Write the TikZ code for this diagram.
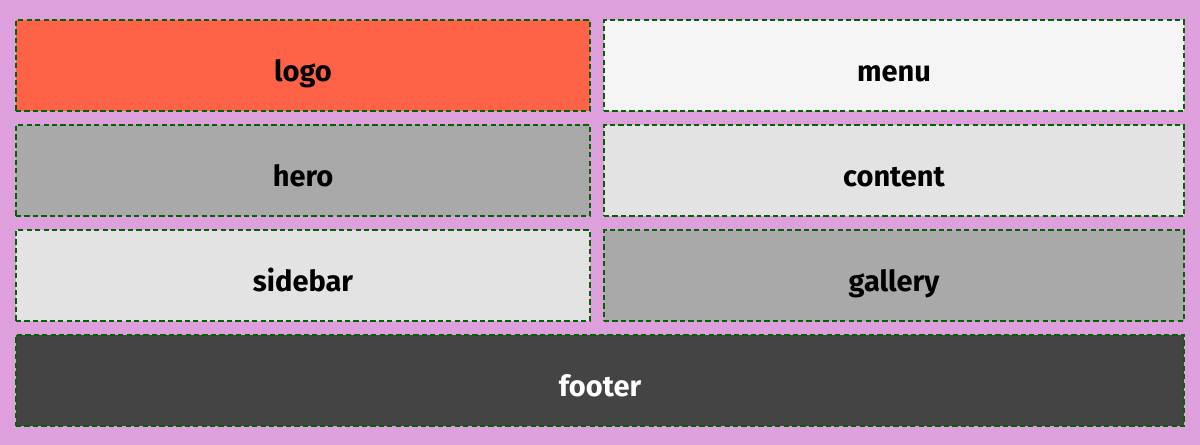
\documentclass[tikz,border=0pt]{standalone}
\usepackage{fontspec}
\setmainfont{Fira Sans}
\usetikzlibrary{positioning}

\definecolor{plum}{HTML}{DDA0DD}
\definecolor{tomato}{HTML}{FF6347}
\definecolor{whitesmoke}{HTML}{F5F5F5}
\definecolor{lightgrey}{HTML}{E3E3E3}
\definecolor{darkgrey}{HTML}{A9A9A9}
\definecolor{charcoal}{HTML}{444444}
\definecolor{darkgreen}{HTML}{006400}

\tikzset{
    cell/.style={draw=darkgreen, line width=1.3pt, dash pattern=on 3pt off 1.8pt,
        minimum height=1.82cm, inner sep=0pt, outer sep=0pt,
        text height=0.64cm, text depth=0cm,
        font=\fontsize{16.5}{19}\selectfont\bfseries},
    leftcell/.style={cell, minimum width=11.48cm},
    rightcell/.style={cell, minimum width=11.6cm}
}

\begin{document}
\begin{tikzpicture}
        % canvas, 1px = 0.02cm
        \fill[plum] (0,0) rectangle (24,-8.9);
        \useasboundingbox (0,0) rectangle (24,-8.9);
        \def\gap{0.28}
        \node[leftcell, fill=tomato] (logo) at (6.06,-1.31) {logo};
        \node[rightcell, fill=whitesmoke, right=\gap of logo] (menu) {menu};
        \node[leftcell, fill=darkgrey, below=\gap of logo] (hero) {hero};
        \node[rightcell, fill=lightgrey, below=\gap of menu] (content) {content};
        \node[leftcell, fill=lightgrey, below=\gap of hero] (sidebar) {sidebar};
        \node[rightcell, fill=darkgrey, below=\gap of content] (gallery) {gallery};
        \node[cell, fill=charcoal, text=white, minimum width=23.36cm] (footer) at (12,-7.61) {footer};
    \end{tikzpicture}
\end{document}
